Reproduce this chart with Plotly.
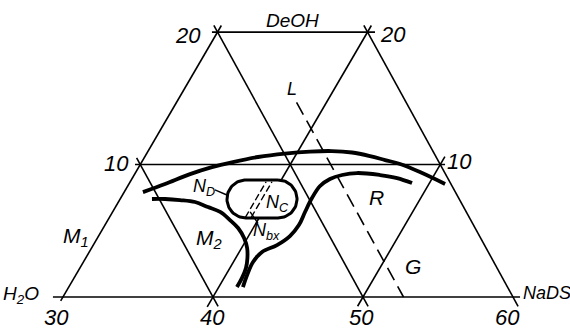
import numpy as np
import plotly.graph_objects as go

# ---- composition data (wt.% NaDS, wt.% DeOH; water is the balance) ----
nads_ticks = [30, 40, 50, 60]
deoh_ticks = [10, 20]

# upper phase boundary (long arc across the diagram)
upper_nads = [31.25, 32.41, 33.69, 34.88, 36.08, 37.56, 39.22, 40.82, 42.25,
              43.65, 44.99, 46.15, 47.30, 48.94, 51.08]
upper_deoh = [7.92, 8.53, 9.28, 9.81, 10.19, 10.57, 10.83, 10.98, 11.02,
              10.91, 10.64, 10.34, 10.04, 9.43, 8.53]

# boundary of the R region
r_nads = [41.61, 41.42, 41.31, 41.52, 42.25, 42.76, 42.93, 42.83, 42.75,
          42.82, 43.21, 43.86, 44.78, 46.39, 47.65, 48.84]
r_deoh = [0.75, 1.66, 2.64, 3.40, 3.92, 4.60, 5.43, 6.42, 7.47,
          8.38, 8.91, 9.21, 9.36, 9.21, 8.98, 8.60]

# boundary of the M2 region
m2_nads = [32.12, 32.99, 34.03, 35.11, 36.17, 37.17, 38.14, 38.99, 39.78,
           40.37, 40.78, 41.07, 41.19, 41.21]
m2_deoh = [7.40, 7.40, 7.32, 7.17, 6.79, 6.42, 5.81, 5.21, 4.45,
           3.70, 2.94, 2.19, 1.43, 0.75]

# N_C domain: centre line of the capsule
nc_nads = [38.39, 40.52]
nc_deoh = 7.40

# dashed line L-G at constant water content
lg_water = 47.3
lg_deoh = [14.7, 0.0]

# hatching inside N_C (constant NaDS)
hatch_nads = [39.06, 39.45]
hatch_deoh = [6.0, 8.7]

# leader lines (label -> domain)
nd_leader = ([35.97, 36.96], [8.08, 7.70])
nbx_leader = ([39.17, 40.12], [6.42, 5.58])

SKEW = 0.515
RISE = 0.883


def to_xy(nads, deoh):
    nads = np.asarray(nads, float)
    deoh = np.asarray(deoh, float) * np.ones_like(nads)
    return nads + SKEW * deoh, RISE * deoh


fig = go.Figure()
THIN = dict(color="black", width=1.6)
THICK = dict(color="black", width=3.8)


def seg(n, d, line, dash=None, shape="linear"):
    x, y = to_xy(n, d)
    ln = dict(line)
    if dash:
        ln["dash"] = dash
    ln["shape"] = shape
    fig.add_trace(go.Scatter(x=x, y=y, mode="lines", line=ln,
                             hoverinfo="skip"))


# iso-DeOH lines
seg([29.33, 60.47], [0, 0], THIN)
seg([29.65, 50.32], [10, 10], THIN)
seg([29.63, 40.50], [20, 20], THIN)
# iso-NaDS lines
seg([30, 30], [-0.3, 20.5], THIN)
seg([40, 40], [-0.75, 20.5], THIN)
seg([50, 50], [-0.7, 10.6], THIN)
# iso-water lines (NaDS + DeOH constant)
for s, dtop in [(40, 10.5), (50, 20.5), (60, 20.5)]:
    dlo = -0.7
    seg([s - dtop, s - dlo], [dtop, dlo], THIN)

# dashed L-G line
lg_n = [100 - lg_water - d for d in lg_deoh]
seg(lg_n, lg_deoh, dict(color="black", width=1.6), dash="14px,7px")

# phase boundaries
seg(upper_nads, upper_deoh, THICK, shape="spline")
seg(r_nads, r_deoh, THICK, shape="spline")
seg(m2_nads, m2_deoh, THICK, shape="spline")

# N_C capsule
cx, cy = to_xy(nc_nads, [nc_deoh, nc_deoh])
rad = 1.27
t1 = np.linspace(np.pi / 2, -np.pi / 2, 40)
t2 = np.linspace(-np.pi / 2, -3 * np.pi / 2, 40)
px = np.concatenate([cx[1] + rad * np.cos(t1), cx[0] + rad * np.cos(t2)])
py = np.concatenate([cy[1] + rad * np.sin(t1), cy[0] + rad * np.sin(t2)])
px = np.append(px, px[0])
py = np.append(py, py[0])
fig.add_trace(go.Scatter(x=px, y=py, mode="lines", fill="toself",
                         fillcolor="white", line=dict(color="black", width=3),
                         hoverinfo="skip"))

for hn in hatch_nads:
    seg([hn, hn], hatch_deoh, dict(color="black", width=1.4), dash="7px,3px")
seg(*nd_leader, dict(color="black", width=1.4))
seg(*nbx_leader, dict(color="black", width=1.4))

FONT = "Liberation Sans, Arial, sans-serif"
ann = []


def label(text, n, d, size, xshift=0, yshift=0, xanchor="center"):
    x, y = to_xy([n], [d])
    ann.append(dict(x=float(x[0]), y=float(y[0]), text=text, showarrow=False,
                    xanchor=xanchor, yanchor="middle", xshift=xshift,
                    yshift=yshift,
                    font=dict(family=FONT, size=size, color="black",
                              style="italic")))


# tick labels
label(str(deoh_ticks[1]), 30, 20, 22, xshift=-30, yshift=-3)
label(str(deoh_ticks[1]), 40, 20, 22, xshift=25, yshift=-2)
label(str(deoh_ticks[0]), 30, 10, 22, xshift=-24, yshift=1)
label(str(deoh_ticks[0]), 50, 10, 22, xshift=19, yshift=3)
for t, dx in zip(nads_ticks, [-7, -1, -2, -6]):
    label(str(t), t, 0, 22, xshift=dx, yshift=-20)

# component names
label("H<sub>2</sub>O", 30, 0, 19, xshift=-22, yshift=2, xanchor="right")
label("NaDS", 60, 0, 18, xshift=8, yshift=4, xanchor="left")
label("DeOH", 35, 20, 19, yshift=12)

# phase names
label("L", 37.18, 15.70, 18)
label("R", 46.98, 7.55, 21)
label("G", 52.13, 2.34, 21)
label("M<sub>1</sub>", 28.53, 4.53, 21)
label("M<sub>2</sub>", 37.48, 4.38, 21)
label("N<sub>D</sub>", 35.12, 8.30, 18)
label("N<sub>C</sub>", 40.62, 7.09, 18)
label("N<sub>bx</sub>", 41.07, 4.91, 18)

fig.update_layout(
    width=570, height=331,
    margin=dict(l=0, r=0, t=0, b=0),
    paper_bgcolor="white", plot_bgcolor="white",
    showlegend=False,
    xaxis=dict(visible=False, range=[30 - 63 / 15, 30 + 507 / 15]),
    yaxis=dict(visible=False, range=[-34 / 15, 297 / 15]),
    annotations=ann,
)
fig.write_html("out.html")
